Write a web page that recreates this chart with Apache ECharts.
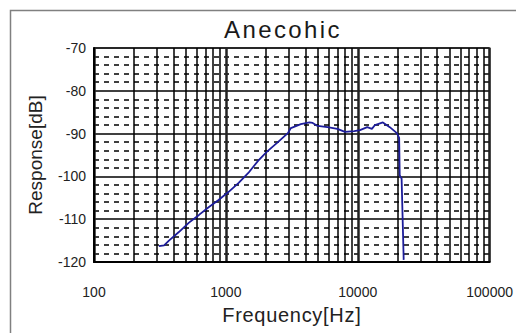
<!DOCTYPE html>
<html>
<head>
<meta charset="utf-8">
<script src="https://cdn.jsdelivr.net/npm/echarts@6/dist/echarts.min.js"></script>
<style>
  html, body { margin: 0; padding: 0; background: #fff; }
  #chart { width: 516px; height: 333px; }
</style>
</head>
<body>
<div id="chart"></div>
<script>
const freqHz = [310, 340, 370, 440, 525, 625, 740, 880, 1050, 1250, 1480, 1760, 2050, 2480, 2950, 3110, 3700, 4300, 4550, 4960, 5900, 7000, 8000, 9400, 10400, 11800, 12800, 13500, 15500, 17500, 19800, 20600, 20800, 21000, 21500, 22300]
const responseDb = [-116.3, -116.1, -115.0, -113.0, -110.8, -109.0, -107.2, -105.5, -103.6, -101.5, -99.2, -96.3, -94.2, -92.0, -89.9, -88.7, -87.8, -87.4, -87.5, -88.2, -88.5, -88.9, -89.6, -89.4, -89.2, -88.5, -88.9, -88.0, -87.4, -88.5, -89.9, -91.0, -99.7, -100.0, -100.5, -119.5]

// axes
const xDecades = [100, 1000, 10000]
const minorSteps = [2, 3, 4, 5, 6, 7, 8, 9]
const yMin = -120, yMax = -70, yStep = 10

const gridFreqs = []
xDecades.forEach(d => minorSteps.forEach(m => gridFreqs.push(d * m)))

const chart = echarts.init(document.getElementById('chart'), null, { renderer: 'svg' })

chart.on('finished', () => {
  // title and axis names are letter-spaced in the original
  document.querySelectorAll('#chart text').forEach(t => {
    if (t.textContent === 'Anecohic') t.style.letterSpacing = '2.4px'
    if (t.textContent === 'Frequency[Hz]') t.style.letterSpacing = '0.7px'
  })
})

chart.setOption({
  animation: false,
  title: {
    text: 'Anecohic', left: 224, top: 17, padding: 0,
    textStyle: { fontFamily: 'Liberation Sans', fontSize: 24, fontWeight: 'normal', color: '#1a1a1a' },
  },
  graphic: [{
    type: 'rect', shape: { x: 10.5, y: 10.5, width: 600, height: 400 },
    style: { fill: 'none', stroke: '#808080', lineWidth: 1.5 }, silent: true, z: -1,
  }],
  grid: { left: 94, right: 22, top: 48, bottom: 71, show: true, borderColor: '#a0a0a0', borderWidth: 2 },
  xAxis: {
    type: 'log', logBase: 10, min: 100, max: 100000,
    name: 'Frequency[Hz]', nameLocation: 'middle', nameGap: 43,
    nameTextStyle: { fontFamily: 'Liberation Sans', fontSize: 20, color: '#222' },
    axisLine: { lineStyle: { color: '#000', width: 2 } },
    axisTick: { show: false },
    axisLabel: { fontFamily: 'Liberation Sans', fontSize: 14, color: '#222', margin: 23, formatter: v => String(Math.round(v)) },
    splitLine: { show: true, lineStyle: { color: '#222', width: 2.5 } },
  },
  yAxis: {
    type: 'value', min: yMin, max: yMax, interval: yStep,
    name: 'Response[dB]', nameLocation: 'middle', nameGap: 49,
    nameTextStyle: { fontFamily: 'Liberation Sans', fontSize: 19, color: '#222' },
    axisLine: { show: true, lineStyle: { color: '#000', width: 2 } },
    axisTick: { show: false },
    minorTick: { show: false, splitNumber: 5 },
    axisLabel: { fontFamily: 'Liberation Sans', fontSize: 14, color: '#222', margin: 8 },
    splitLine: { show: true, lineStyle: { color: '#000', width: 1.5 } },
    minorSplitLine: { show: true, lineStyle: { color: '#000', width: 1.5, type: [5, 5] } },
  },
  series: [
    {
      type: 'line', data: [], z: 1, silent: true,
      markLine: {
        silent: true, symbol: ['none', 'none'], label: { show: false },
        lineStyle: { color: '#000', width: 1.5, type: 'solid' },
        data: gridFreqs.map(f => ({ xAxis: f })),
      },
    },
    {
      type: 'line', z: 5, showSymbol: false,
      data: freqHz.map((f, i) => [f, responseDb[i]]),
      lineStyle: { color: '#1c1c9a', width: 1.8 },
    },
  ],
})
</script>
</body>
</html>
